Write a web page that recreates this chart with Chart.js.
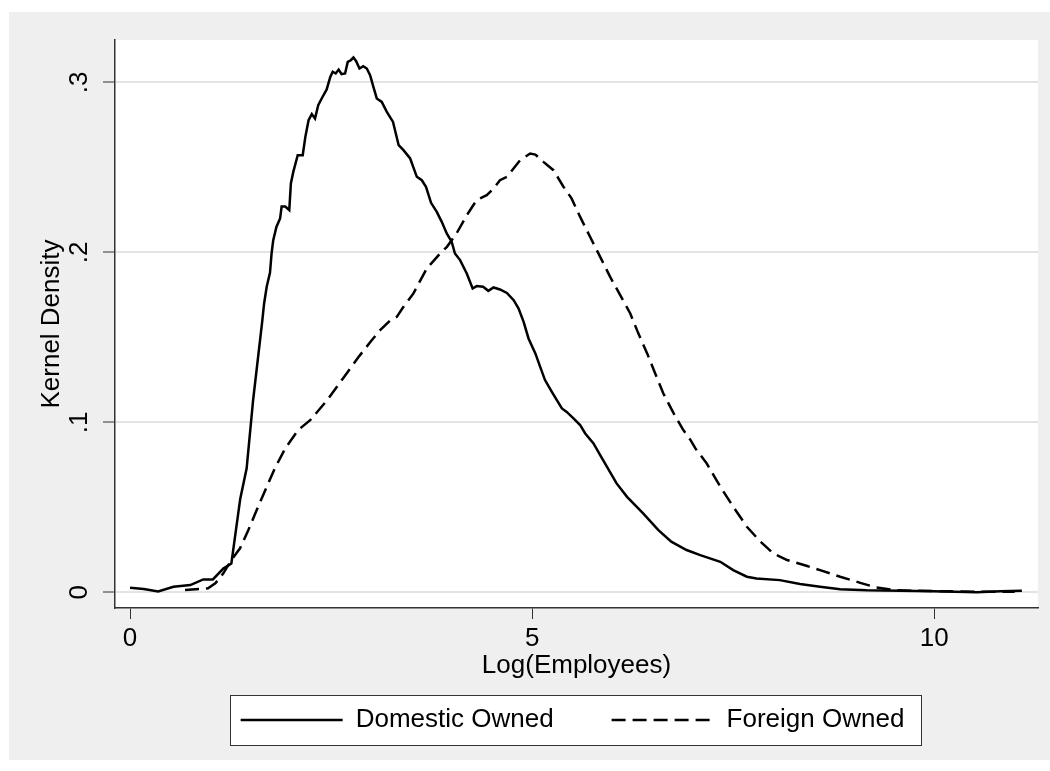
<!DOCTYPE html>
<html>
<head>
<meta charset="utf-8">
<script src="https://cdn.jsdelivr.net/npm/chart.js@4"></script>
<style>
  html, body { margin: 0; padding: 0; background: #fff; }
  canvas { display: block; }
</style>
</head>
<body>
<canvas id="density" width="1050" height="771"></canvas>
<script>
// Kernel density of log firm size, by ownership
const seriesNames = ['Domestic Owned', 'Foreign Owned'];

const domesticLogEmp = [
  0.00, 0.17, 0.35, 0.54, 0.75, 0.91, 1.03, 1.16, 1.26, 1.37, 1.45, 1.53,
  1.645, 1.667, 1.70, 1.74, 1.76, 1.78, 1.82, 1.866, 1.885, 1.93, 1.98, 2.00,
  2.03, 2.085, 2.147, 2.18, 2.22, 2.26, 2.30, 2.34, 2.383, 2.445, 2.49, 2.52,
  2.557, 2.594, 2.63, 2.674, 2.707, 2.745, 2.778, 2.81, 2.853, 2.90, 2.944, 2.985,
  3.026, 3.068, 3.13, 3.193, 3.27, 3.34, 3.40, 3.483, 3.566, 3.628, 3.68, 3.743,
  3.814, 3.876, 3.938, 4.00, 4.04, 4.104, 4.187, 4.26, 4.31, 4.39, 4.455, 4.52,
  4.60, 4.686, 4.77, 4.83, 4.894, 4.955, 5.04, 5.10, 5.16, 5.245, 5.307, 5.37,
  5.43, 5.514, 5.597, 5.66, 5.763, 5.846, 6.05, 6.18, 6.38, 6.57, 6.73, 6.92,
  7.09, 7.34, 7.50, 7.67, 7.79, 8.08, 8.33, 8.58, 8.83, 9.16, 9.58, 9.99,
  10.53, 10.82, 11.09
];
const domesticDensity = [
  0.0027, 0.0020, 0.0005, 0.0033, 0.0043, 0.0076, 0.0076, 0.0140, 0.0170, 0.0550, 0.0730, 0.1130,
  0.1600, 0.1700, 0.1800, 0.1880, 0.1994, 0.2070, 0.2150, 0.2200, 0.2270, 0.2270, 0.2249, 0.2406,
  0.2474, 0.2572, 0.2572, 0.2680, 0.2778, 0.2814, 0.2788, 0.2866, 0.2906, 0.2959, 0.3033, 0.3063,
  0.3053, 0.3076, 0.3049, 0.3053, 0.3121, 0.3131, 0.3147, 0.3127, 0.3082, 0.3096, 0.3082, 0.3043,
  0.2974, 0.2906, 0.2886, 0.2827, 0.2768, 0.2631, 0.2602, 0.2553, 0.2445, 0.2425, 0.2386, 0.2292,
  0.2239, 0.2180, 0.2112, 0.2062, 0.1994, 0.1955, 0.1876, 0.1788, 0.1802, 0.1798, 0.1774, 0.1794,
  0.1782, 0.1762, 0.1719, 0.1671, 0.1592, 0.1494, 0.1406, 0.1327, 0.1249, 0.1180, 0.1131, 0.1082,
  0.1062, 0.1024, 0.0984, 0.0935, 0.0876, 0.0808, 0.0641, 0.0562, 0.0465, 0.0366, 0.0298, 0.0249,
  0.0219, 0.0180, 0.0131, 0.0092, 0.0082, 0.0072, 0.0049, 0.0033, 0.0019, 0.0012, 0.0009, 0.0006,
  0.0000, 0.0006, 0.0009
];

const foreignLogEmp = [
  0.684, 0.97, 1.06, 1.16, 1.26, 1.368, 1.47, 1.575, 1.70, 1.80, 1.93, 2.09,
  2.24, 2.45, 2.65, 2.85, 3.00, 3.11, 3.234, 3.317, 3.40, 3.524, 3.69, 3.856,
  3.94, 4.06, 4.187, 4.31, 4.435, 4.52, 4.60, 4.686, 4.85, 4.975, 5.04, 5.14,
  5.265, 5.39, 5.49, 5.597, 5.72, 5.846, 5.97, 6.095, 6.22, 6.32, 6.43, 6.53,
  6.63, 6.76, 6.88, 6.97, 7.03, 7.17, 7.34, 7.50, 7.67, 7.84, 8.00, 8.17,
  8.42, 8.58, 8.83, 9.08, 9.28, 9.49, 9.78, 10.2, 10.6, 11.0
];
const foreignDensity = [
  0.0014, 0.0024, 0.0053, 0.0112, 0.0190, 0.0259, 0.0366, 0.0484, 0.0621, 0.0729, 0.0847, 0.0955,
  0.1013, 0.1130, 0.1260, 0.1390, 0.1480, 0.1543, 0.1600, 0.1621, 0.1680, 0.1759, 0.1906, 0.1994,
  0.2033, 0.2112, 0.2219, 0.2308, 0.2337, 0.2376, 0.2425, 0.2445, 0.2543, 0.2582, 0.2576, 0.2533,
  0.2484, 0.2386, 0.2318, 0.2209, 0.2092, 0.1974, 0.1856, 0.1749, 0.1641, 0.1524, 0.1406, 0.1288,
  0.1171, 0.1053, 0.0955, 0.0896, 0.0847, 0.0759, 0.0621, 0.0504, 0.0386, 0.0298, 0.0229, 0.0190,
  0.0155, 0.0131, 0.0092, 0.0056, 0.0029, 0.0014, 0.0009, 0.0006, 0.0003, 0.0003
];

const xTickValues = [0, 5, 10];
const xTickLabels = ['0', '5', '10'];
const yTickValues = [0, 0.1, 0.2, 0.3];
const yTickLabels = ['0', '.1', '.2', '.3'];

function toPoints(xs, ys) {
  return xs.map((x, i) => ({ x: x, y: ys[i] }));
}

const FONT = "'Liberation Sans', Arial, Helvetica, sans-serif";
Chart.defaults.font.family = FONT;
Chart.defaults.font.size = 26;
Chart.defaults.color = '#000';

const LEGEND_PAD = 58;

// Graph region, plot region and framed legend box
const framePlugin = {
  id: 'frame',
  afterLayout(chart) {
    const lg = chart.legend;
    const a = chart.chartArea;
    if (!lg) return;
    lg.left = a.left - 4;
    lg.right = a.right - 4;
    lg.width = lg.right - lg.left;
    lg.top = 707 - LEGEND_PAD;
    lg.height = 771 - lg.top;
    lg.bottom = 771;
  },
  beforeDraw(chart) {
    const ctx = chart.ctx;
    const a = chart.chartArea;
    ctx.save();
    ctx.fillStyle = '#ffffff';
    ctx.fillRect(0, 0, chart.width, chart.height);
    ctx.fillStyle = '#efefef';
    ctx.fillRect(9, 12, chart.width - 9, 748);
    ctx.fillStyle = '#ffffff';
    ctx.fillRect(a.left, a.top, a.right - a.left, a.bottom - a.top);
    const hb = chart.legend && chart.legend.legendHitBoxes;
    if (hb && hb.length) {
      const first = hb[0];
      const last = hb[hb.length - 1];
      const x0 = Math.round(first.left - 11) + 0.5;
      const x1 = Math.round(last.left + last.width + 17) + 0.5;
      const y0 = Math.round(first.top - 12) + 0.5;
      const y1 = Math.round(first.top + first.height + 12) + 0.5;
      ctx.fillStyle = '#ffffff';
      ctx.fillRect(x0, y0, x1 - x0, y1 - y0);
      ctx.strokeStyle = '#333333';
      ctx.lineWidth = 1;
      ctx.strokeRect(x0, y0, x1 - x0, y1 - y0);
    }
    ctx.restore();
  }
};

new Chart(document.getElementById('density'), {
  type: 'line',
  data: {
    datasets: [
      {
        label: seriesNames[0],
        data: toPoints(domesticLogEmp, domesticDensity),
        borderColor: '#000',
        backgroundColor: 'transparent',
        borderWidth: 2.5,
        pointRadius: 0,
        tension: 0,
        fill: false
      },
      {
        label: seriesNames[1],
        data: toPoints(foreignLogEmp, foreignDensity),
        borderColor: '#000',
        backgroundColor: 'transparent',
        borderWidth: 2.5,
        borderDash: [14, 7],
        pointRadius: 0,
        tension: 0,
        fill: false
      }
    ]
  },
  options: {
    responsive: false,
    animation: false,
    devicePixelRatio: 1,
    layout: { padding: { left: 0, top: 40, right: 12, bottom: 0 } },
    plugins: {
      legend: {
        position: 'bottom',
        maxHeight: 60,
        labels: {
          usePointStyle: true,
          pointStyle: 'line',
          pointStyleWidth: 102,
          padding: LEGEND_PAD,
          color: '#000',
          font: { size: 26 },
          generateLabels(chart) {
            const items = Chart.defaults.plugins.legend.labels.generateLabels(chart);
            items.forEach(item => {
              const ds = chart.data.datasets[item.datasetIndex];
              item.lineDash = ds.borderDash || [];
              item.lineWidth = ds.borderWidth;
              item.strokeStyle = ds.borderColor;
              item.fillStyle = 'transparent';
            });
            return items;
          }
        }
      },
      tooltip: { enabled: false }
    },
    scales: {
      x: {
        type: 'linear',
        min: -0.187,
        max: 11.29,
        afterBuildTicks: s => { s.ticks = xTickValues.map(v => ({ value: v })); },
        afterFit: s => { s.height = 103; },
        grid: { drawOnChartArea: false, drawTicks: true, tickLength: 11, tickColor: '#333', tickWidth: 1 },
        border: { display: true, color: '#333', width: 1.5 },
        ticks: {
          padding: 4, minRotation: 0, maxRotation: 0, autoSkip: false,
          color: '#000', font: { size: 26 },
          callback: (v, i) => xTickLabels[i]
        },
        title: {
          display: true, text: 'Log(Employees)', color: '#000',
          font: { size: 26 }, padding: { top: 0, bottom: 30 }
        }
      },
      y: {
        type: 'linear',
        min: -0.0092,
        max: 0.325,
        afterBuildTicks: s => { s.ticks = yTickValues.map(v => ({ value: v })); },
        afterFit: s => { s.width = 115; },
        grid: { color: '#e4e4e4', lineWidth: 2, drawTicks: true, tickLength: 12, tickColor: '#333', tickWidth: 1 },
        border: { display: true, color: '#333', width: 1.5 },
        ticks: {
          padding: 12, minRotation: 90, maxRotation: 90, crossAlign: 'center', autoSkip: false,
          color: '#000', font: { size: 26 },
          callback: (v, i) => yTickLabels[i]
        },
        title: {
          display: true, text: 'Kernel Density', color: '#000',
          font: { size: 26 }, padding: { top: 36, bottom: 0 }
        }
      }
    }
  },
  plugins: [framePlugin]
});
</script>
</body>
</html>
